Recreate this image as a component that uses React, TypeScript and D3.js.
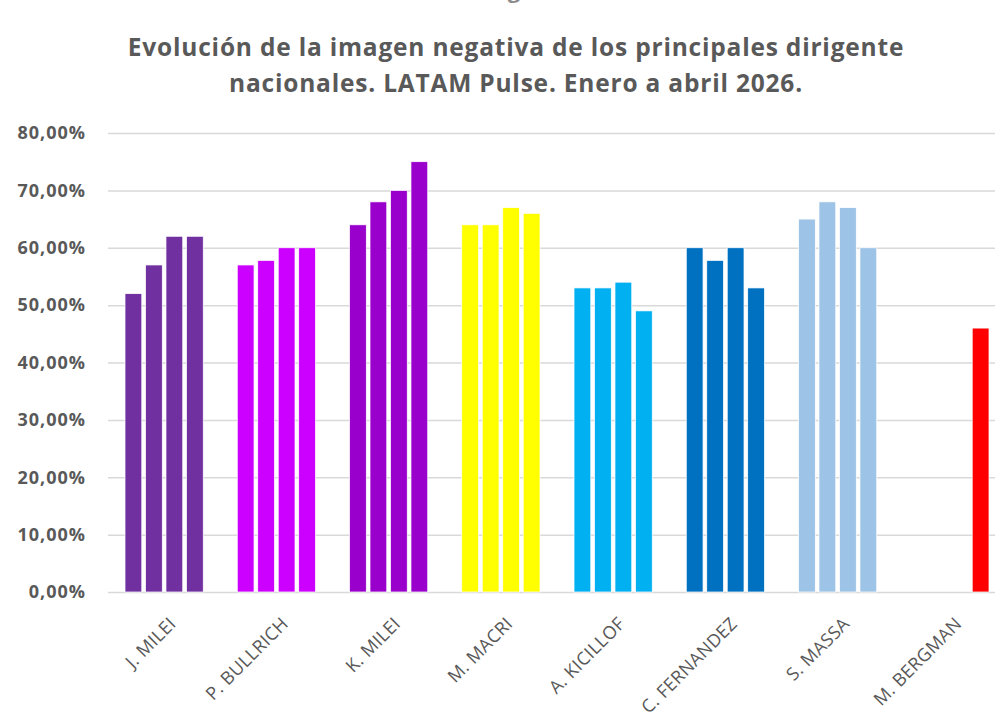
import React from "react";
import * as d3 from "d3";

const categories = [
  "J. MILEI",
  "P. BULLRICH",
  "K. MILEI",
  "M. MACRI",
  "A. KICILLOF",
  "C. FERNANDEZ",
  "S. MASSA",
  "M. BERGMAN",
];
const months = ["Enero", "Febrero", "Marzo", "Abril"];
// negative image, % per month (null = not measured)
const jMilei = [52, 57, 62, 62];
const pBullrich = [57, 57.8, 60, 60];
const kMilei = [64, 68, 70, 75];
const mMacri = [64, 64, 67, 66];
const aKicillof = [53, 53, 54, 49];
const cFernandez = [60, 57.8, 60, 53];
const sMassa = [65, 68, 67, 60];
const mBergman = [null, null, null, 46];
const seriesValues = [jMilei, pBullrich, kMilei, mMacri, aKicillof, cFernandez, sMassa, mBergman];
const colors = ["#7030A0", "#CC00FF", "#9900CC", "#FFFF00", "#00B0F0", "#0070C0", "#9DC3E6", "#FF0000"];
const yTicks = [0, 10, 20, 30, 40, 50, 60, 70, 80];
const titleLines = [
  "Evolución de la imagen negativa de los principales dirigente",
  "nacionales. LATAM Pulse. Enero a abril 2026.",
];

const App = () => {
  const svgRef = React.useRef(null);
  const width = 995;
  const height = 721;
  const margin = { top: 133, left: 108, bottom: 592, right: 1006 };

  React.useEffect(() => {
    const svgEl = d3.select(svgRef.current);
    svgEl.selectAll("*").remove();
    const svg = svgEl.append("g");

    const xScale = d3.scaleBand().domain(categories).range([margin.left, margin.right]).padding(0);
    const xInner = d3
      .scaleBand()
      .domain(months)
      .range([17, xScale.bandwidth() - 17])
      .paddingInner(0.18);
    const yScale = d3.scaleLinear().domain([0, 80]).range([margin.bottom, margin.top]);

    // cut-off letter at the very top (left over from a line above)
    svg
      .append("text")
      .attr("x", 514)
      .attr("y", -2)
      .attr("text-anchor", "middle")
      .attr("font-family", "'Open Sans', sans-serif")
      .attr("font-weight", "bold")
      .attr("font-size", "22px")
      .attr("fill", "#8c8c8c")
      .text("g");

    // title
    svg
      .selectAll(".title")
      .data(titleLines)
      .enter()
      .append("text")
      .attr("x", 516)
      .attr("y", (d, i) => 56 + i * 36)
      .attr("text-anchor", "middle")
      .attr("font-family", "'Open Sans', sans-serif")
      .attr("font-weight", "bold")
      .attr("font-size", "24.5px")
      .attr("letter-spacing", "0.8px")
      .attr("fill", "#595959")
      .text((d) => d);

    // gridlines
    svg
      .selectAll(".grid")
      .data(yTicks)
      .enter()
      .append("line")
      .attr("x1", margin.left)
      .attr("x2", margin.right)
      .attr("y1", (d) => yScale(d) + 0.5)
      .attr("y2", (d) => yScale(d) + 0.5)
      .attr("stroke", "#d9d9d9")
      .attr("stroke-width", 1.5);

    // y labels
    svg
      .selectAll(".ylab")
      .data(yTicks)
      .enter()
      .append("text")
      .attr("x", 86)
      .attr("y", (d) => yScale(d))
      .attr("dy", "0.35em")
      .attr("text-anchor", "end")
      .attr("font-family", "'Open Sans', sans-serif")
      .attr("font-weight", "bold")
      .attr("font-size", "18px")
      .attr("letter-spacing", "1px")
      .attr("fill", "#595959")
      .text((d) => d.toFixed(2).replace(".", ",") + "%");

    // bars
    const groups = svg
      .selectAll(".grp")
      .data(categories)
      .enter()
      .append("g")
      .attr("transform", (d) => `translate(${xScale(d)},0)`);

    groups
      .selectAll("rect")
      .data((d, i) =>
        seriesValues[i]
          .map((v, j) => ({ month: months[j], value: v, color: colors[i] }))
          .filter((e) => e.value !== null)
      )
      .enter()
      .append("rect")
      .attr("x", (d) => xInner(d.month))
      .attr("width", xInner.bandwidth())
      .attr("y", (d) => yScale(d.value))
      .attr("height", (d) => yScale(0) - yScale(d.value))
      .attr("fill", (d) => d.color)
      .attr("stroke", "#ffffff")
      .attr("stroke-width", 0.75);

    // x labels
    svg
      .selectAll(".xlab")
      .data(categories)
      .enter()
      .append("text")
      .attr(
        "transform",
        (d) => `translate(${xScale(d) + xScale.bandwidth() / 2 + 13},${margin.bottom + 33}) rotate(-45)`
      )
      .attr("text-anchor", "end")
      .attr("font-family", "'Open Sans', sans-serif")
      .attr("font-size", "18px")
      .attr("letter-spacing", "0.3px")
      .attr("fill", "#595959")
      .text((d) => d);
  }, []);

  return (
    <svg
      ref={svgRef}
      width={width}
      height={height}
      style={{ position: "absolute", left: 0, top: 0, background: "#ffffff", overflow: "hidden" }}
    />
  );
};

export default App;
